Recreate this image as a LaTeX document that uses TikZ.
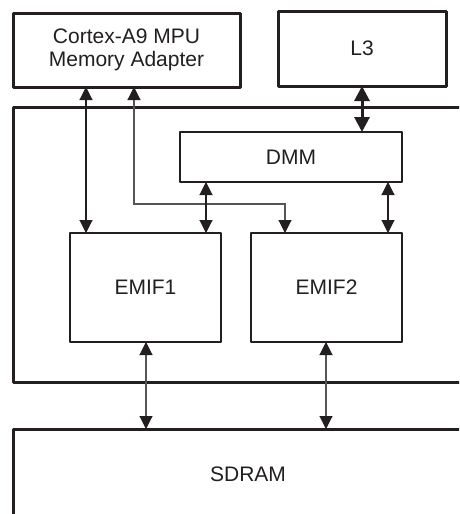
\documentclass[tikz,border=0pt]{standalone}
\usepackage{fontspec}
\setmainfont{Liberation Sans}
\usetikzlibrary{arrows.meta}
\definecolor{ink}{HTML}{231F20}
\definecolor{wire}{HTML}{555555}
\begin{document}
\begin{tikzpicture}[x=1pt,y=-1pt,
  every node/.style={inner sep=0pt, outer sep=0pt, font=\fontsize{21}{23.5}\selectfont, text=ink, align=center},
  heavybox/.style={draw=ink, line width=3pt, fill=white, line join=round},
  lightbox/.style={draw=ink, line width=2.2pt, fill=white, line join=round},
  link/.style={draw=ink, line width=1.1pt, {Triangle[width=13pt,length=13pt]}-{Triangle[width=13pt,length=13pt]}},
  glink/.style={draw=wire, line width=1.1pt, {Triangle[width=13pt,length=13pt,color=ink]}-{Triangle[width=13pt,length=13pt,color=ink]}},
  thicklink/.style={draw=ink, line width=3pt, {Triangle[width=15pt,length=15pt]}-{Triangle[width=15pt,length=15pt]}}
]
\useasboundingbox (0,0) rectangle (459,514);
\clip (0,0) rectangle (459,514);
\fill[white] (0,0) rectangle (459,514);

% boxes
\node[heavybox, minimum width=227pt, minimum height=74pt] (cortex) at (126.5,50) {Cortex-A9 MPU\\Memory Adapter};
\node[heavybox, minimum width=168pt, minimum height=75pt] (l3) at (362,48.5) {L3};
\node[heavybox, minimum width=480pt, minimum height=275.5pt, anchor=north west] (chip) at (13,107) {};
\node[lightbox, minimum width=222pt, minimum height=50pt] (dmm) at (291,157) {DMM};
\node[lightbox, minimum width=151pt, minimum height=109pt] (emifa) at (145.5,287.5) {EMIF1};
\node[lightbox, minimum width=151pt, minimum height=109pt] (emifb) at (326.5,287.5) {EMIF2};
\node[heavybox, minimum width=470pt, minimum height=90pt] (sdram) at (248,474) {SDRAM};

% connector x positions
\coordinate (xa) at (86,0);
\coordinate (xb) at (134,0);
\coordinate (xbb) at (285,0);
\coordinate (xl) at (362,0);
\coordinate (xd1) at (206,0);
\coordinate (xd2) at (388,0);
\coordinate (xs1) at (146,0);
\coordinate (xs2) at (326,0);
\coordinate (yb) at (0,204);

% connectors
\draw[link] (cortex.south -| xa) -- (emifa.north -| xa);
\draw[glink] (cortex.south -| xb) -- (yb -| xb) -- (yb -| xbb) -- (emifb.north -| xbb);
\draw[thicklink] (l3.south -| xl) -- (dmm.north -| xl);
\draw[link] (dmm.south -| xd1) -- (emifa.north -| xd1);
\draw[link] (dmm.south -| xd2) -- (emifb.north -| xd2);
\draw[glink] (emifa.south -| xs1) -- (sdram.north -| xs1);
\draw[glink] (emifb.south -| xs2) -- (sdram.north -| xs2);
\end{tikzpicture}
\end{document}
